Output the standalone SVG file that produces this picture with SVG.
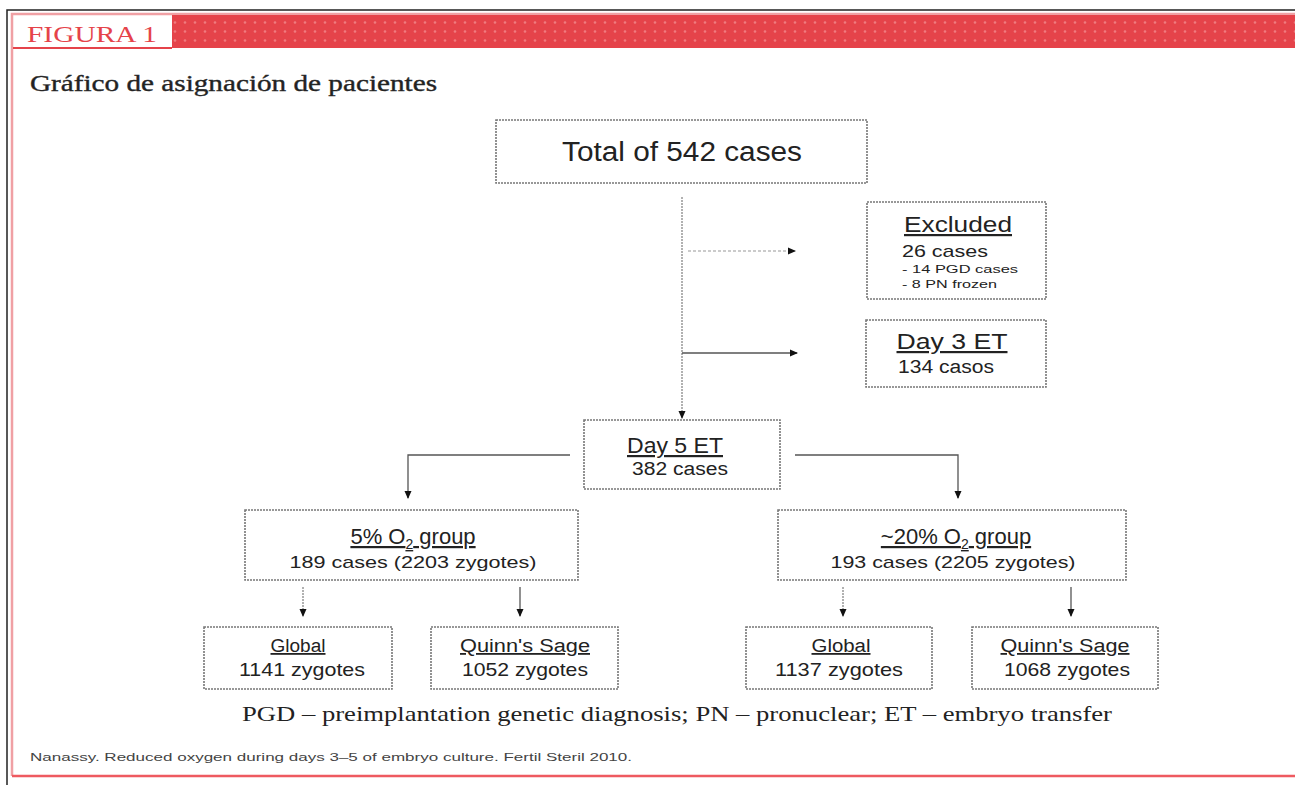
<svg xmlns="http://www.w3.org/2000/svg" width="1295" height="785" viewBox="0 0 1295 785">
<style>
.box{fill:#fff;stroke:#777;stroke-width:1.6;stroke-dasharray:2 1}
.t{font-family:"Liberation Sans",Arial,sans-serif;fill:#222;text-anchor:middle}
.s{font-family:"Liberation Sans",Arial,sans-serif;fill:#222;text-anchor:start}
.u{text-decoration:underline}
.ln{stroke:#555;stroke-width:1.3;fill:none}
.dot{stroke:#888;stroke-width:1.3;fill:none;stroke-dasharray:2 1}
.serif{font-family:"Liberation Serif","Times New Roman",serif;fill:#222}
</style>
<defs>
<pattern id="dots" width="10" height="9" patternUnits="userSpaceOnUse">
<rect width="10" height="9" fill="#e5434a"/>
<circle cx="5" cy="4.5" r="1.3" fill="#f07a7e"/>
</pattern>
<marker id="ah" markerWidth="8" markerHeight="8" refX="7" refY="4" orient="auto" markerUnits="userSpaceOnUse">
<path d="M0,0.5 L8,4 L0,7.5 Z" fill="#111"/>
</marker>
</defs>
<rect width="1295" height="785" fill="#fff"/>
<path d="M7,785 V10 H1295" fill="none" stroke="#222" stroke-width="1.5"/>
<path d="M12,776 V14 H1295" fill="none" stroke="#f0a0a4" stroke-width="2.5"/>
<line x1="12" y1="776" x2="1295" y2="776" stroke="#ee5a60" stroke-width="2.5"/>
<rect x="172" y="15" width="1123" height="33" fill="url(#dots)"/>
<line x1="13" y1="48" x2="172" y2="48" stroke="#e5434a" stroke-width="2"/>
<text x="27" y="42" font-family="Liberation Serif,serif" font-size="24" fill="#e5434a" textLength="130" lengthAdjust="spacingAndGlyphs">FIGURA 1</text>
<text x="30" y="91" class="serif" font-size="24" fill="#2a2a2a" stroke="#2a2a2a" stroke-width="0.4" textLength="407" lengthAdjust="spacingAndGlyphs">Gráfico de asignación de pacientes</text>

<g id="connectors">
<line class="dot" x1="682" y1="197" x2="682" y2="418" marker-end="url(#ah)"/>
<line x1="688" y1="251" x2="795" y2="251" stroke="#bbb" stroke-width="1.3" stroke-dasharray="3 2" marker-end="url(#ah)"/>
<line class="ln" x1="682" y1="353" x2="797" y2="353" marker-end="url(#ah)"/>
<path class="ln" d="M570,455 H408 V498" marker-end="url(#ah)"/>
<path class="ln" d="M795,455 H958 V498" marker-end="url(#ah)"/>
<line class="dot" x1="303" y1="587" x2="303" y2="616" marker-end="url(#ah)"/>
<line class="ln" x1="520" y1="587" x2="520" y2="616" marker-end="url(#ah)"/>
<line class="dot" x1="843" y1="587" x2="843" y2="616" marker-end="url(#ah)"/>
<line class="ln" x1="1071" y1="587" x2="1071" y2="616" marker-end="url(#ah)"/>
</g>

<g id="total">
<rect class="box" x="496" y="120" width="371" height="63"/>
<text class="t" x="682" y="161" font-size="27" textLength="240" lengthAdjust="spacingAndGlyphs">Total of 542 cases</text>
</g>
<g id="excluded">
<rect class="box" x="867" y="202" width="179" height="97"/>
<text class="t u" x="958" y="232" font-size="22" textLength="108" lengthAdjust="spacingAndGlyphs">Excluded</text>
<text class="s" x="902" y="257" font-size="17" textLength="86" lengthAdjust="spacingAndGlyphs">26 cases</text>
<text class="s" x="902" y="273" font-size="11" textLength="116" lengthAdjust="spacingAndGlyphs">- 14 PGD cases</text>
<text class="s" x="902" y="288" font-size="11" textLength="95" lengthAdjust="spacingAndGlyphs">- 8 PN frozen</text>
</g>
<g id="day3">
<rect class="box" x="866" y="320" width="180" height="67"/>
<text class="t u" x="952" y="349" font-size="22" textLength="111" lengthAdjust="spacingAndGlyphs">Day 3 ET</text>
<text class="s" x="898" y="373" font-size="18" textLength="96" lengthAdjust="spacingAndGlyphs">134 casos</text>
</g>
<g id="day5">
<rect class="box" x="584" y="420" width="196" height="69"/>
<text class="t u" x="675" y="453" font-size="22" textLength="96" lengthAdjust="spacingAndGlyphs">Day 5 ET</text>
<text class="t" x="680" y="475" font-size="18" textLength="96" lengthAdjust="spacingAndGlyphs">382 cases</text>
</g>
<g id="group5">
<rect class="box" x="245" y="510" width="333" height="70"/>
<text class="t u" x="413" y="544" font-size="22">5% O<tspan font-size="14" dy="5">2</tspan><tspan dy="-5"> group</tspan></text>
<text class="t" x="413" y="568" font-size="17" textLength="247" lengthAdjust="spacingAndGlyphs">189 cases (2203 zygotes)</text>
</g>
<g id="group20">
<rect class="box" x="778" y="510" width="348" height="70"/>
<text class="t u" x="956" y="544" font-size="22">~20% O<tspan font-size="14" dy="5">2</tspan><tspan dy="-5"> group</tspan></text>
<text class="t" x="953" y="568" font-size="17" textLength="245" lengthAdjust="spacingAndGlyphs">193 cases (2205 zygotes)</text>
</g>
<g id="global5">
<rect class="box" x="204" y="627" width="188" height="62"/>
<text class="t u" x="298" y="652" font-size="18" textLength="55" lengthAdjust="spacingAndGlyphs">Global</text>
<text class="t" x="302" y="676" font-size="19" textLength="126" lengthAdjust="spacingAndGlyphs">1141 zygotes</text>
</g>
<g id="quinn5">
<rect class="box" x="431" y="627" width="187" height="62"/>
<text class="t u" x="525" y="652" font-size="18" textLength="130" lengthAdjust="spacingAndGlyphs">Quinn's Sage</text>
<text class="t" x="525" y="676" font-size="19" textLength="126" lengthAdjust="spacingAndGlyphs">1052 zygotes</text>
</g>
<g id="global20">
<rect class="box" x="746" y="627" width="186" height="62"/>
<text class="t u" x="841" y="652" font-size="18" textLength="59" lengthAdjust="spacingAndGlyphs">Global</text>
<text class="t" x="839" y="676" font-size="19" textLength="128" lengthAdjust="spacingAndGlyphs">1137 zygotes</text>
</g>
<g id="quinn20">
<rect class="box" x="972" y="627" width="186" height="62"/>
<text class="t u" x="1065" y="652" font-size="18" textLength="129" lengthAdjust="spacingAndGlyphs">Quinn's Sage</text>
<text class="t" x="1067" y="676" font-size="19" textLength="126" lengthAdjust="spacingAndGlyphs">1068 zygotes</text>
</g>

<text class="serif" x="677" y="721" font-size="22" text-anchor="middle" textLength="870" lengthAdjust="spacingAndGlyphs">PGD – preimplantation genetic diagnosis; PN – pronuclear; ET – embryo transfer</text>
<text x="30" y="761" font-family="Liberation Sans,sans-serif" font-size="11" fill="#444" textLength="602" lengthAdjust="spacingAndGlyphs">Nanassy. Reduced oxygen during days 3–5 of embryo culture. Fertil Steril 2010.</text>
</svg>
